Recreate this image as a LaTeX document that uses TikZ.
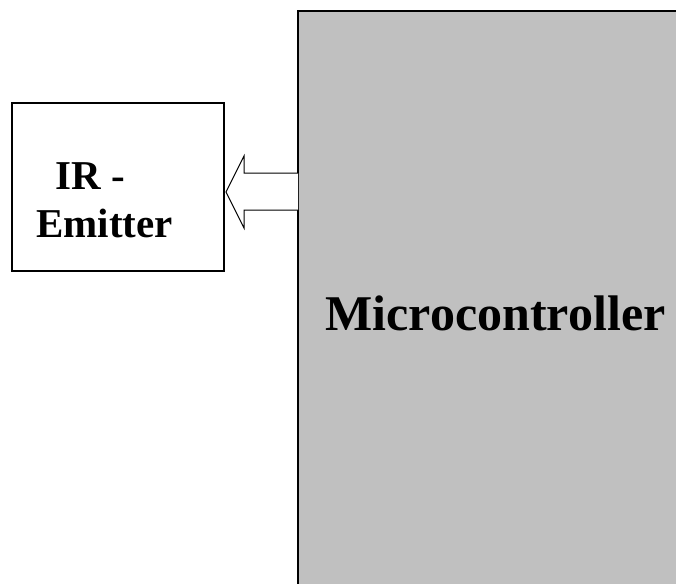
\documentclass[tikz,border=0pt]{standalone}
\usepackage{fontspec}
\setmainfont{Liberation Serif}
\definecolor{mcgray}{RGB}{192,192,192}
\tikzset{
  blk/.style={draw=black, line width=1.5pt},
  lbl/.style={font=\bfseries\fontsize{41}{48}\selectfont, anchor=base, inner sep=0pt},
  biglbl/.style={font=\bfseries\fontsize{50}{58}\selectfont, anchor=base, inner sep=0pt},
  blockarrow/.style={draw=black, line width=1pt, fill=white, line join=miter}
}
\begin{document}
\begin{tikzpicture}[x=1pt,y=-1pt]
\useasboundingbox (0,0) rectangle (676,583);
\begin{scope}
\clip (0,0) rectangle (676,583);
\draw[blk, fill=mcgray] (298,11) rectangle (720,640);
\end{scope}
\coordinate (mcleft) at (298,192);
\draw[blk] (12,103) rectangle (224,271);
\node[lbl] (ir) at (90,189) {IR -};
\node[lbl] (em) at (104.5,237) {Emitter};
\node[biglbl] (mc) at (495.5,330) {Microcontroller};
\draw[blockarrow] (298,173) -- (244,173) -- (244,156) -- (226,192) -- (244,228) -- (244,210) -- (298,210);
\end{tikzpicture}
\end{document}
